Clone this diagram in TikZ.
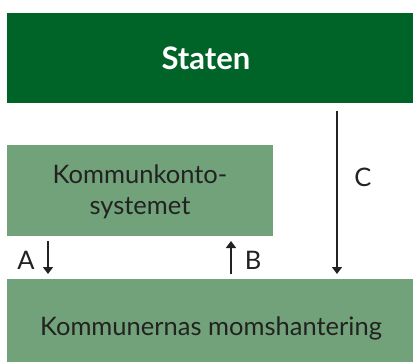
\documentclass[tikz,border=0pt]{standalone}
\usepackage{fontspec}
\setmainfont{Lato}
\usetikzlibrary{arrows.meta}
\definecolor{darkgreen}{HTML}{006428}
\definecolor{lightgreen}{HTML}{72A27A}
\definecolor{txt}{HTML}{222222}
\tikzset{
  box/.style={inner sep=0pt, text=txt, font=\fontsize{25.5}{31}\selectfont, align=center},
  arr/.style={line width=2pt, draw=txt, -{Triangle[length=7pt,width=10pt]}},
  lbl/.style={text=txt, font=\fontsize{25.5}{31}\selectfont, inner sep=0pt},
}
\begin{document}
\begin{tikzpicture}[x=1pt,y=-1pt]
\useasboundingbox (0,0) rectangle (413,362);
\fill[darkgreen] (7,13) rectangle (413,103);
\node[box, text=white, font=\fontsize{31}{37}\selectfont\bfseries] (staten) at (206,58) {Staten};
\fill[lightgreen] (7,145) rectangle (273,236);
\node[box] (konto) at (140,192) {Kommunkonto-\\systemet};
\fill[lightgreen] (7,279) rectangle (413,362);
\node[box] (moms) at (211,328) {Kommunernas momshantering};
\coordinate (a1) at (48,241); \coordinate (a2) at (48,274);
\coordinate (b1) at (231,274); \coordinate (b2) at (231,241);
\coordinate (c1) at (337,111); \coordinate (c2) at (337,274);
\draw[arr] (a1) -- (a2);
\draw[arr] (b1) -- (b2);
\draw[arr] (c1) -- (c2);
\node[lbl] (A) at (26,260) {A};
\node[lbl] (B) at (253,260) {B};
\node[lbl] (C) at (363,177) {C};
\end{tikzpicture}
\end{document}
